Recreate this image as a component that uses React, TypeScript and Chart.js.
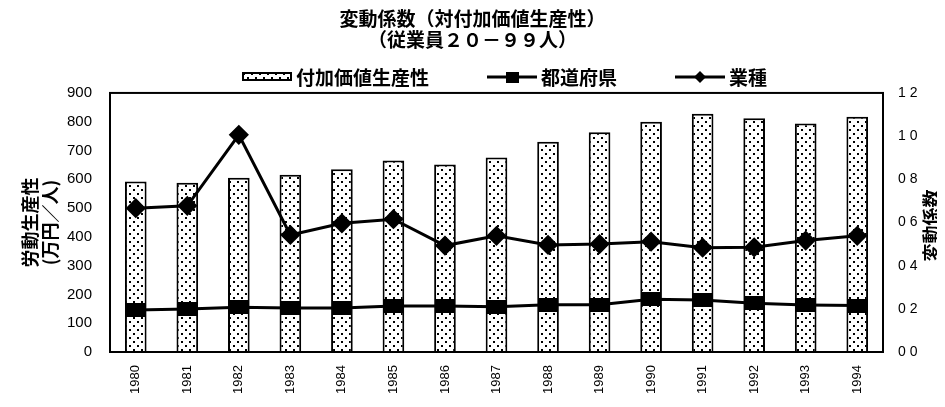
import React, { useEffect, useRef } from "react";
import { Chart, registerables } from "chart.js";

Chart.register(...registerables);

const years = ["1980", "1981", "1982", "1983", "1984", "1985", "1986", "1987", "1988", "1989", "1990", "1991", "1992", "1993", "1994"];
const productivity = [592, 588, 605, 616, 635, 665, 651, 676, 730, 763, 800, 828, 812, 794, 817];
const prefectureCV = [0.195, 0.199, 0.207, 0.204, 0.204, 0.213, 0.213, 0.21, 0.219, 0.219, 0.244, 0.241, 0.226, 0.218, 0.215];
const industryCV = [0.666, 0.677, 1.006, 0.542, 0.596, 0.615, 0.493, 0.538, 0.496, 0.5, 0.511, 0.483, 0.485, 0.516, 0.538];
const titleLines = ["変動係数（対付加価値生産性）", "（従業員２０－９９人）"];
const seriesNames = ["付加価値生産性", "都道府県", "業種"];
const leftAxisTitle = ["労動生産性", "(万円／人)"];
const rightAxisTitle = "変動係数";

const CJK = '"Noto Sans CJK JP", sans-serif';
const NUM = '"Liberation Sans", Arial, sans-serif';
const CJK_WEIGHT = "bold";

function makeDotCanvas(): HTMLCanvasElement {
  const c = document.createElement("canvas");
  c.width = 8;
  c.height = 8;
  const g = c.getContext("2d")!;
  g.fillStyle = "#fff";
  g.fillRect(0, 0, 8, 8);
  g.fillStyle = "#000";
  g.fillRect(1, 1, 2, 2);
  g.fillRect(5, 5, 2, 2);
  return c;
}

function makeSquareMarker(): HTMLCanvasElement {
  const c = document.createElement("canvas");
  c.width = 20;
  c.height = 14;
  const g = c.getContext("2d")!;
  g.fillStyle = "#000";
  g.fillRect(0, 0, 20, 14);
  return c;
}

function makeBarLegend(): HTMLCanvasElement {
  const c = document.createElement("canvas");
  c.width = 50;
  c.height = 9;
  const g = c.getContext("2d")!;
  g.fillStyle = g.createPattern(makeDotCanvas(), "repeat")!;
  g.fillRect(0, 0, 50, 9);
  g.strokeStyle = "#000";
  g.lineWidth = 2;
  g.strokeRect(1, 1, 48, 7);
  return c;
}

function makeLineLegend(marker: "square" | "diamond"): HTMLCanvasElement {
  const c = document.createElement("canvas");
  c.width = 50;
  c.height = 14;
  const g = c.getContext("2d")!;
  g.strokeStyle = "#000";
  g.lineWidth = 3;
  g.beginPath();
  g.moveTo(0, 7);
  g.lineTo(50, 7);
  g.stroke();
  g.fillStyle = "#000";
  if (marker === "square") {
    g.fillRect(19, 2, 13, 11);
  } else {
    g.beginPath();
    g.moveTo(25, 1);
    g.lineTo(31, 7);
    g.lineTo(25, 13);
    g.lineTo(19, 7);
    g.closePath();
    g.fill();
  }
  return c;
}

export default function App() {
  const canvasRef = useRef<HTMLCanvasElement | null>(null);

  useEffect(() => {
    const canvas = canvasRef.current;
    if (!canvas) return;
    const ctx = canvas.getContext("2d")!;
    const pattern = ctx.createPattern(makeDotCanvas(), "repeat")!;
    const squareMarker = makeSquareMarker();
    const legendImgs = [makeBarLegend(), makeLineLegend("square"), makeLineLegend("diamond")];

    const decorPlugin = {
      id: "decor",
      afterDraw(chart: any) {
        const { ctx: c, chartArea } = chart;
        c.save();
        // plot frame
        c.strokeStyle = "#000";
        c.lineWidth = 2;
        c.strokeRect(chartArea.left, chartArea.top, chartArea.right - chartArea.left, chartArea.bottom - chartArea.top);

        // right axis title (reads bottom-to-top)
        c.save();
        c.translate(chartArea.right + 48, (chartArea.top + chartArea.bottom) / 2 + 3);
        c.rotate(-Math.PI / 2);
        c.font = `${CJK_WEIGHT} 18px ${CJK}`;
        c.fillStyle = "#000";
        c.textAlign = "center";
        c.textBaseline = "middle";
        c.fillText(rightAxisTitle, 0, 0);
        c.restore();

        // legend
        c.font = `${CJK_WEIGHT} 19px ${CJK}`;
        c.fillStyle = "#000";
        c.textAlign = "left";
        c.textBaseline = "middle";
        const imgGap = 4;
        const itemGap = 58;
        const widths = seriesNames.map((n, i) => legendImgs[i].width + imgGap + c.measureText(n).width);
        const total = widths.reduce((a, b) => a + b, 0) + itemGap * (seriesNames.length - 1);
        let x = (chartArea.left + chartArea.right) / 2 + 8 - total / 2;
        const y = chartArea.top - 16;
        seriesNames.forEach((n, i) => {
          const img = legendImgs[i];
          c.drawImage(img, Math.round(x), Math.round(y - img.height / 2));
          c.fillText(n, x + img.width + imgGap, y + 1);
          x += widths[i] + itemGap;
        });
        c.restore();
      },
    };

    const chart = new Chart(ctx, {
      type: "bar",
      data: {
        labels: years,
        datasets: [
          {
            type: "bar",
            label: seriesNames[0],
            data: productivity,
            backgroundColor: pattern as any,
            borderColor: "#000",
            borderWidth: 2,
            categoryPercentage: 1,
            barPercentage: 0.42,
            yAxisID: "y",
            order: 3,
          },
          {
            type: "line",
            label: seriesNames[1],
            data: prefectureCV,
            borderColor: "#000",
            backgroundColor: "#000",
            borderWidth: 3,
            pointStyle: squareMarker as any,
            pointRadius: 8,
            yAxisID: "y1",
            order: 2,
          },
          {
            type: "line",
            label: seriesNames[2],
            data: industryCV,
            borderColor: "#000",
            backgroundColor: "#000",
            borderWidth: 3,
            pointStyle: "rectRot",
            pointRadius: 8,
            yAxisID: "y1",
            order: 1,
          },
        ] as any,
      },
      options: {
        animation: false,
        responsive: true,
        maintainAspectRatio: false,
        layout: { padding: 0 },
        plugins: {
          tooltip: { enabled: false },
          legend: { display: false },
          title: {
            display: true,
            text: titleLines,
            color: "#000",
            font: { family: CJK, size: 19, weight: CJK_WEIGHT as any, lineHeight: 1.13 },
            padding: { top: 0, bottom: 42 },
          },
        },
        scales: {
          x: {
            grid: { display: false, drawTicks: false },
            border: { display: false },
            ticks: {
              color: "#000",
              autoSkip: false,
              minRotation: 90,
              maxRotation: 90,
              padding: 13,
              font: { family: NUM, size: 13 },
            },
            afterFit: (s: any) => {
              s.height = 47;
            },
          },
          y: {
            position: "left",
            min: 0,
            max: 900,
            grid: { display: false, drawTicks: false },
            border: { display: false },
            ticks: { stepSize: 100, color: "#000", padding: 18, font: { family: NUM, size: 15 } },
            title: {
              display: true,
              text: leftAxisTitle,
              color: "#000",
              font: { family: CJK, size: 18, weight: CJK_WEIGHT as any, lineHeight: 1.1 },
              padding: { top: 12, bottom: 0 },
            },
            afterFit: (s: any) => {
              s.width = 102;
            },
          },
          y1: {
            position: "right",
            min: 0,
            max: 1.2,
            grid: { display: false, drawTicks: false },
            border: { display: false },
            ticks: {
              stepSize: 0.2,
              color: "#000",
              padding: 15,
              font: { family: NUM, size: 14 },
              callback: (v: any) => Number(v).toFixed(1).replace(".", " "),
            },
            afterFit: (s: any) => {
              s.width = 54;
            },
          },
        },
      } as any,
      plugins: [decorPlugin],
    });

    return () => chart.destroy();
  }, []);

  return (
    <div style={{ width: 929, height: 391, position: "relative" }}>
      <canvas ref={canvasRef} />
    </div>
  );
}
